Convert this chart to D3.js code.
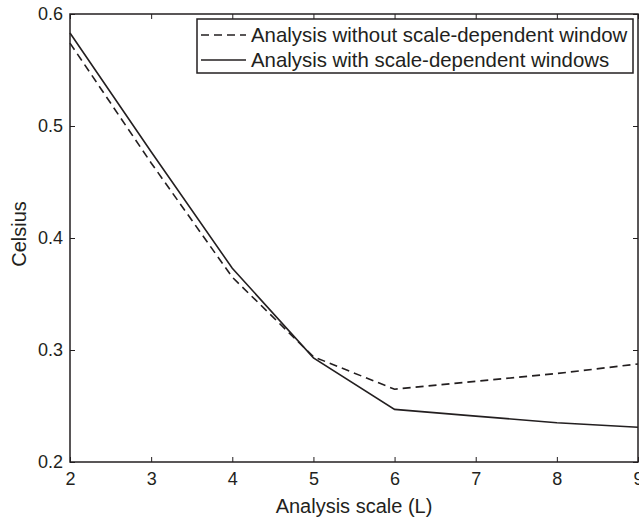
<!DOCTYPE html>
<html>
<head>
<meta charset="utf-8">
<script src="https://cdn.jsdelivr.net/npm/d3@7"></script>
<style>
  body { margin: 0; background: #fff; }
  svg { display: block; font-family: "Liberation Sans", Arial, sans-serif; }
</style>
</head>
<body>
<div id="chart"></div>
<script>
// Analysis scale L
const scales = [2, 3, 4, 5, 6, 7, 8, 9];
// Celsius values
const withoutWindow = [0.574, 0.467, 0.365, 0.294, 0.265, 0.272, 0.279, 0.2875];
const withWindows = [0.583, 0.477, 0.373, 0.293, 0.247, 0.241, 0.235, 0.231];
const seriesNames = ["Analysis without scale-dependent window", "Analysis with scale-dependent windows"];
const yTicks = [0.2, 0.3, 0.4, 0.5, 0.6];

const W = 639, H = 520;
const margin = { top: 14, right: 1, bottom: 58, left: 70 };
const width = W - margin.left - margin.right;
const height = H - margin.top - margin.bottom;
const ink = "#231f20";

const svg = d3.select("#chart").append("svg")
    .attr("width", W)
    .attr("height", H);

const g = svg.append("g")
    .attr("transform", `translate(${margin.left},${margin.top})`);

const x = d3.scaleLinear().domain([2, 9]).range([0, width]);
const y = d3.scaleLinear().domain([0.2, 0.6]).range([height, 0]);

// ticks pointing inward on all four sides
const tickLen = 5;
const styleAxis = sel => {
    sel.select(".domain").remove();
    sel.selectAll(".tick line").attr("stroke", ink);
    sel.selectAll(".tick text").attr("fill", ink).style("font-size", "18px");
};

g.append("g")
    .attr("transform", `translate(0,${height})`)
    .call(d3.axisBottom(x).tickValues(scales).tickSize(-tickLen).tickPadding(10).tickFormat(d3.format("d")))
    .call(styleAxis);

g.append("g")
    .call(d3.axisTop(x).tickValues(scales).tickSize(-tickLen).tickFormat(""))
    .call(styleAxis);

g.append("g")
    .call(d3.axisLeft(y).tickValues(yTicks).tickSize(-tickLen).tickPadding(7).tickFormat(d3.format(".1f")))
    .call(styleAxis);

g.append("g")
    .attr("transform", `translate(${width},0)`)
    .call(d3.axisRight(y).tickValues(yTicks).tickSize(-tickLen).tickFormat(""))
    .call(styleAxis);

g.append("rect")
    .attr("width", width)
    .attr("height", height)
    .attr("fill", "none")
    .attr("stroke", ink)
    .attr("stroke-width", 1.5);

const line = d3.line()
    .x((d, i) => x(scales[i]))
    .y(d => y(d));

g.append("path")
    .datum(withoutWindow)
    .attr("fill", "none")
    .attr("stroke", ink)
    .attr("stroke-width", 1.6)
    .attr("stroke-dasharray", "8,5")
    .attr("d", line);

g.append("path")
    .datum(withWindows)
    .attr("fill", "none")
    .attr("stroke", ink)
    .attr("stroke-width", 1.6)
    .attr("d", line);

// axis titles
svg.append("text")
    .attr("x", margin.left + width / 2)
    .attr("y", 513)
    .attr("text-anchor", "middle")
    .attr("fill", ink)
    .style("font-size", "20px")
    .text("Analysis scale (L)");

svg.append("text")
    .attr("transform", `translate(26,${margin.top + height / 2 - 4}) rotate(-90)`)
    .attr("text-anchor", "middle")
    .attr("fill", ink)
    .style("font-size", "20px")
    .text("Celsius");

// legend
const legend = svg.append("g").attr("transform", "translate(197,19)");
legend.append("rect")
    .attr("width", 436)
    .attr("height", 54)
    .attr("fill", "#fff")
    .attr("stroke", ink)
    .attr("stroke-width", 1.5);

seriesNames.forEach((name, i) => {
    const ly = 16 + i * 25;
    legend.append("line")
        .attr("x1", 4).attr("x2", 49)
        .attr("y1", ly).attr("y2", ly)
        .attr("stroke", ink)
        .attr("stroke-width", 1.5)
        .attr("stroke-dasharray", i === 0 ? "8,5" : null);
    legend.append("text")
        .attr("x", 54)
        .attr("y", ly)
        .attr("dy", "0.35em")
        .attr("fill", ink)
        .style("font-size", "20.4px")
        .text(name);
});
</script>
</body>
</html>
